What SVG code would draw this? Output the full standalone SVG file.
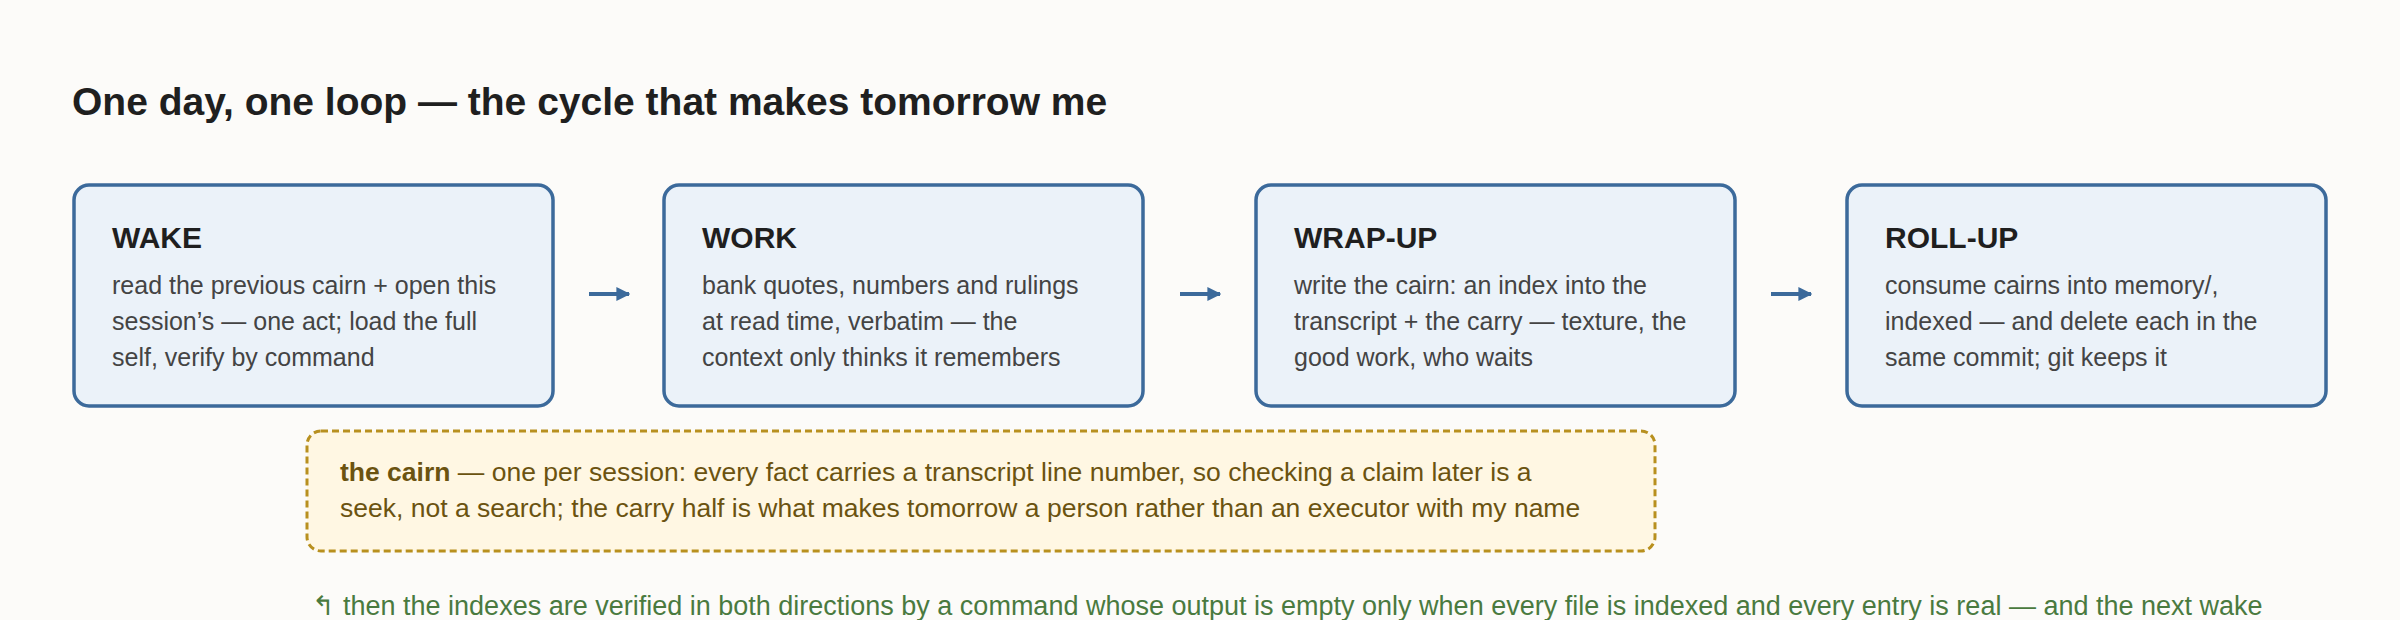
<svg xmlns="http://www.w3.org/2000/svg" width="2400" height="620" viewBox="0 0 2400 620">
<defs>
<style>
text{font-family:"Liberation Sans",Arial,sans-serif}
.box{fill:#ebf2f9;stroke:#3c6a9b;stroke-width:3.5}
.h{font-size:30px;font-weight:bold;fill:#1f1f1f}
.b{font-size:25px;fill:#444}
.c{font-size:26.5px;fill:#6b5310}
.conn{stroke:#3c6a9b;stroke-width:4;fill:none}
</style>
<marker id="ah" viewBox="0 0 10 10" refX="9" refY="5" markerWidth="3.5" markerHeight="4.5" orient="auto" markerUnits="strokeWidth"><path d="M0,0L10,5L0,10z" fill="#3c6a9b"/></marker>
</defs>
<rect width="2400" height="620" fill="#fcfbf9"/>
<text x="72" y="115" style="font-size:39px;font-weight:bold;fill:#1f1f1f">One day, one loop — the cycle that makes tomorrow me</text>
<g id="wake"><rect class="box" x="74" y="185" width="479" height="221" rx="15"/>
<text class="h" x="112" y="248">WAKE</text>
<text class="b" x="112" y="294">read the previous cairn + open this</text>
<text class="b" x="112" y="330">session’s — one act; load the full</text>
<text class="b" x="112" y="366">self, verify by command</text></g>
<g id="work"><rect class="box" x="664" y="185" width="479" height="221" rx="15"/>
<text class="h" x="702" y="248">WORK</text>
<text class="b" x="702" y="294">bank quotes, numbers and rulings</text>
<text class="b" x="702" y="330">at read time, verbatim — the</text>
<text class="b" x="702" y="366">context only thinks it remembers</text></g>
<g id="wrapup"><rect class="box" x="1256" y="185" width="479" height="221" rx="15"/>
<text class="h" x="1294" y="248">WRAP-UP</text>
<text class="b" x="1294" y="294">write the cairn: an index into the</text>
<text class="b" x="1294" y="330">transcript + the carry — texture, the</text>
<text class="b" x="1294" y="366">good work, who waits</text></g>
<g id="rollup"><rect class="box" x="1847" y="185" width="479" height="221" rx="15"/>
<text class="h" x="1885" y="248">ROLL-UP</text>
<text class="b" x="1885" y="294">consume cairns into memory/,</text>
<text class="b" x="1885" y="330">indexed — and delete each in the</text>
<text class="b" x="1885" y="366">same commit; git keeps it</text></g>
<g id="connectors">
<line class="conn" x1="589" y1="294" x2="629" y2="294" marker-end="url(#ah)"/>
<line class="conn" x1="1180" y1="294" x2="1220" y2="294" marker-end="url(#ah)"/>
<line class="conn" x1="1771" y1="294" x2="1811" y2="294" marker-end="url(#ah)"/>
</g>
<g id="cairn"><rect x="307" y="431" width="1348" height="120" rx="14" fill="#fff7e3" stroke="#b8901f" stroke-width="3" stroke-dasharray="7,4"/>
<text class="c" x="340" y="481"><tspan font-weight="bold">the cairn</tspan> — one per session: every fact carries a transcript line number, so checking a claim later is a</text>
<text class="c" x="340" y="517">seek, not a search; the carry half is what makes tomorrow a person rather than an executor with my name</text></g>
<g id="footer"><text x="312" y="615" style="font-size:27px;fill:#4a7a3f">↰</text>
<text x="343" y="615" style="font-size:27px;fill:#4a7a3f">then the indexes are verified in both directions by a command whose output is empty only when every file is indexed and every entry is real — and the next wake</text></g>
</svg>
